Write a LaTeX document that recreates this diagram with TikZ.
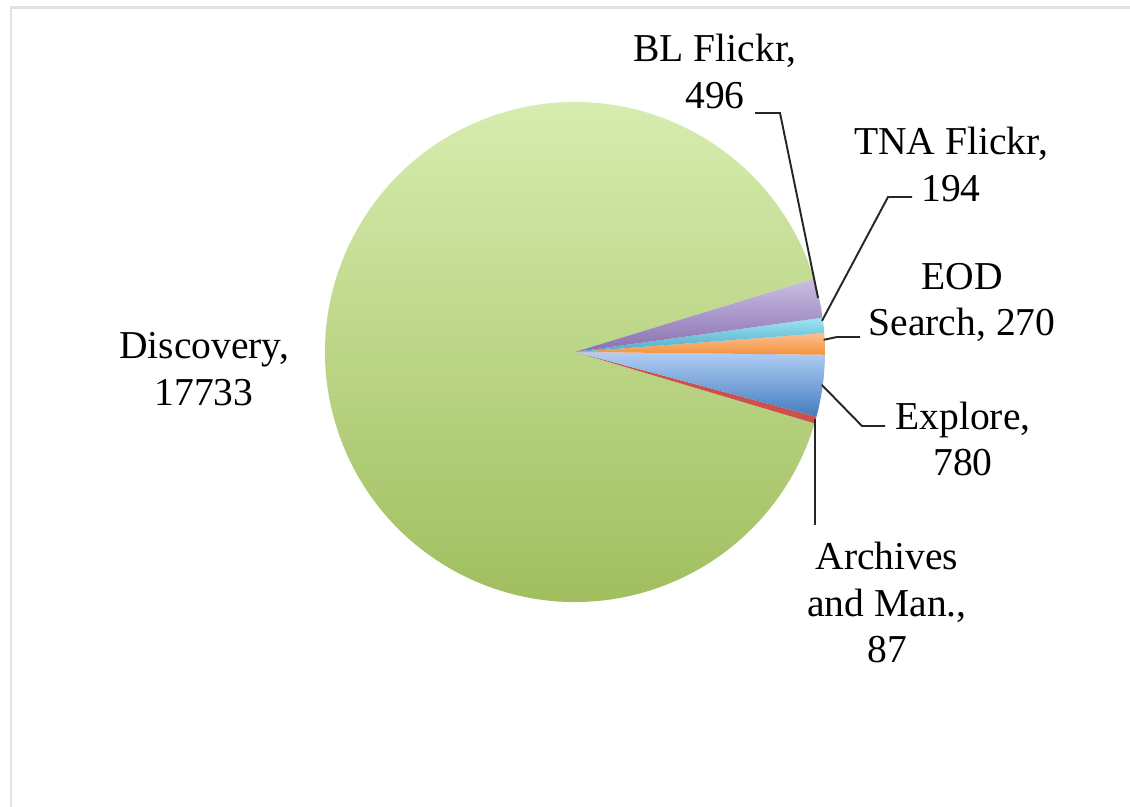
\documentclass[tikz,border=0pt]{standalone}
\usepackage{fontspec}
\setmainfont{Liberation Serif}
\usetikzlibrary{calc}

\definecolor{discTop}{RGB}{218,239,180}
\definecolor{discBot}{RGB}{157,188,90}
\definecolor{blTop}{RGB}{202,190,226}
\definecolor{blBot}{RGB}{137,111,176}
\definecolor{tnaTop}{RGB}{160,228,244}
\definecolor{tnaBot}{RGB}{75,172,198}
\definecolor{eodTop}{RGB}{250,192,144}
\definecolor{eodBot}{RGB}{244,145,60}
\definecolor{expTop}{RGB}{178,206,245}
\definecolor{expBot}{RGB}{66,124,190}
\definecolor{arcRed}{RGB}{205,80,75}

\tikzset{
  lbl/.style={align=center, inner sep=0pt, font=\fontsize{22.5}{26.5}\selectfont},
  lead/.style={line width=1.1pt, black!85},
}

\begin{document}
\begin{tikzpicture}[x=0.02cm, y=0.02cm]
    \useasboundingbox (0,0) rectangle (1130,807);
    \draw [black!12, line width=1.6pt] (11,0) -- (11,799.5) -- (1130,799.5);
    \coordinate (c) at (575,455);
    % slices
    \shade [top color=discTop, bottom color=discBot] (c) -- ++(17.03:250) arc (17.03:343.4:250) -- cycle;
    \fill [arcRed] (c) -- ++(-16.6:250) arc (-16.6:-15.0:250) -- cycle;
    \shade [top color=expTop, bottom color=expBot] (c) -- ++(-15.0:250) arc (-15.0:-0.64:250) -- cycle;
    \shade [top color=eodTop, bottom color=eodBot] (c) -- ++(-0.64:250) arc (-0.64:4.33:250) -- cycle;
    \shade [top color=tnaTop, bottom color=tnaBot] (c) -- ++(4.33:250) arc (4.33:7.90:250) -- cycle;
    \shade [top color=blTop, bottom color=blBot] (c) -- ++(7.90:250) arc (7.90:17.03:250) -- cycle;
    % labels
    \node [lbl] (disc) at (204,438) {Discovery,\\17733};
    \node [lbl] (bl) at (715,735.5) {BL Flickr,\\496};
    \node [lbl] (tna) at (951,642.5) {TNA Flickr,\\194};
    \node [lbl] (eod) at (962,504.5) {EOD\\Search, 270};
    \node [lbl] (exp) at (963,368) {Explore,\\780};
    \node [lbl] (arc) at (887,204.5) {Archives\\and Man.,\\87};
    % leader lines
    \coordinate (blA) at (755,694);
    \coordinate (blB) at ($(c)+(12.5:249)$);
    \coordinate (tnaA) at (912,610);
    \coordinate (tnaB) at ($(c)+(7.2:249)$);
    \coordinate (eodA) at (860,470);
    \coordinate (eodB) at ($(c)+(2.8:249)$);
    \coordinate (expA) at (885,381);
    \coordinate (expB) at ($(c)+(-7.6:249)$);
    \coordinate (arcA) at (815,282);
    \coordinate (arcB) at ($(c)+(-15.6:249)$);
    \draw [lead] (blA) -- ++(25,0) -- (blB);
    \draw [lead] (tnaA) -- ++(-24,0) -- (tnaB);
    \draw [lead] (eodA) -- ++(-23,0) -- (eodB);
    \draw [lead] (expA) -- ++(-23,0) -- (expB);
    \draw [lead] (arcA) -- (arcA |- arcB);
\end{tikzpicture}
\end{document}
